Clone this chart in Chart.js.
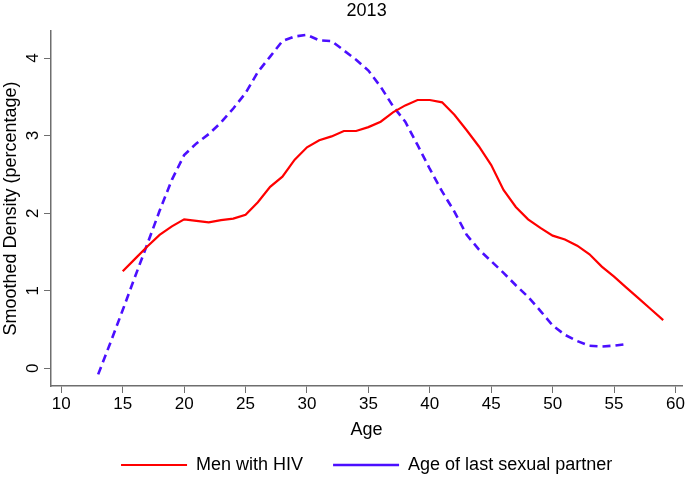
<!DOCTYPE html>
<html>
<head>
<meta charset="utf-8">
<script src="https://cdn.jsdelivr.net/npm/chart.js@4"></script>
<style>
  html, body { margin: 0; padding: 0; background: #fff; }
  #wrap { width: 688px; height: 477px; }
</style>
</head>
<body>
<div id="wrap"><canvas id="densityChart"></canvas></div>
<script>
const CHART_TITLE = '2013';
const X_TITLE = 'Age';
const Y_TITLE = 'Smoothed Density (percentage)';
const X_TICKS = [10, 15, 20, 25, 30, 35, 40, 45, 50, 55, 60];
const Y_TICKS = [0, 1, 2, 3, 4];

const hivLabel = 'Men with HIV';
const hivAges = [15, 16, 17, 18, 19, 20, 21, 22, 23, 24, 25, 26, 27, 28, 29, 30, 31, 32, 33, 34, 35, 36, 37,
    38, 39, 40, 41, 42, 43, 44, 45, 46, 47, 48, 49, 50, 51, 52, 53, 54, 55, 56, 57, 58, 59];
const hivDensity = [1.25, 1.41, 1.57, 1.72, 1.83, 1.92, 1.90, 1.88, 1.91, 1.93, 1.98, 2.14, 2.34, 2.47, 2.69,
    2.85, 2.94, 2.99, 3.06, 3.06, 3.11, 3.18, 3.30, 3.39, 3.46, 3.46, 3.43, 3.27, 3.07, 2.86, 2.62, 2.30,
    2.08, 1.92, 1.81, 1.71, 1.66, 1.58, 1.47, 1.31, 1.18, 1.04, 0.90, 0.76, 0.62];

const partnerLabel = 'Age of last sexual partner';
const partnerAges = [13, 14, 15, 16, 17, 18, 19, 20, 21, 22, 23, 24, 25, 26, 27, 28, 29, 30, 31, 32, 33, 34,
    35, 36, 37, 38, 39, 40, 41, 42, 43, 44, 45, 46, 47, 48, 49, 50, 51, 52, 53, 54, 55, 56];
const partnerDensity = [-0.08, 0.33, 0.75, 1.18, 1.60, 2.03, 2.43, 2.75, 2.90, 3.02, 3.17, 3.35, 3.55, 3.82,
    4.02, 4.22, 4.28, 4.30, 4.23, 4.22, 4.10, 3.98, 3.84, 3.63, 3.38, 3.18, 2.88, 2.57, 2.28, 2.02, 1.72,
    1.53, 1.38, 1.23, 1.07, 0.92, 0.74, 0.55, 0.43, 0.35, 0.29, 0.28, 0.29, 0.31];

const FONT = "'Liberation Sans', Arial, Helvetica, sans-serif";
const AXIS_COLOR = '#6e6e6e';

function toPoints(xs, ys) {
    return xs.map((x, i) => ({ x: x, y: ys[i] }));
}

Chart.defaults.font.family = FONT;
Chart.defaults.color = '#000';

const ctx = document.getElementById('densityChart').getContext('2d');
const chart = new Chart(ctx, {
    type: 'line',
    data: {
        datasets: [{
            label: hivLabel,
            data: toPoints(hivAges, hivDensity),
            borderColor: '#ff0000',
            backgroundColor: '#ff0000',
            borderWidth: 2.2,
            pointRadius: 0,
            tension: 0,
            fill: false
        }, {
            label: partnerLabel,
            data: toPoints(partnerAges, partnerDensity),
            borderColor: '#4b0fff',
            backgroundColor: '#4b0fff',
            borderWidth: 2.6,
            borderDash: [8, 5],
            pointRadius: 0,
            tension: 0,
            fill: false
        }]
    },
    options: {
        responsive: true,
        maintainAspectRatio: false,
        animation: false,
        layout: { padding: { left: 0, right: 5, top: 0, bottom: -7 } },
        scales: {
            x: {
                type: 'linear',
                min: 9.16,
                max: 60.55,
                afterBuildTicks: axis => { axis.ticks = X_TICKS.map(v => ({ value: v })); },
                grid: { display: true, drawOnChartArea: false, drawTicks: true, tickLength: 7, color: AXIS_COLOR, tickColor: AXIS_COLOR },
                border: { display: true, color: AXIS_COLOR, width: 1.5 },
                ticks: { font: { size: 17, lineHeight: 1 }, padding: 3, maxRotation: 0, autoSkip: false },
                title: { display: true, text: X_TITLE, font: { size: 18, lineHeight: 1 }, padding: { top: 5, bottom: -13 } }
            },
            y: {
                type: 'linear',
                min: -0.23,
                max: 4.35,
                afterBuildTicks: axis => { axis.ticks = Y_TICKS.map(v => ({ value: v })); },
                grid: { display: true, drawOnChartArea: false, drawTicks: true, tickLength: 7, color: AXIS_COLOR, tickColor: AXIS_COLOR },
                border: { display: true, color: AXIS_COLOR, width: 1.5 },
                ticks: { font: { size: 17 }, padding: 6, minRotation: 90, maxRotation: 90, crossAlign: 'center' },
                title: { display: true, text: Y_TITLE, font: { size: 18 }, padding: { top: 0, bottom: -10 } }
            }
        },
        plugins: {
            title: {
                display: true,
                text: CHART_TITLE,
                fullSize: false,
                font: { size: 18, weight: 'normal' },
                padding: { top: 0, bottom: 9.4 }
            },
            legend: {
                position: 'bottom',
                fullSize: false,
                labels: {
                    boxWidth: 66,
                    boxHeight: 0,
                    padding: 30,
                    font: { size: 18 },
                    color: '#000'
                }
            },
            tooltip: { enabled: false }
        }
    }
});
</script>
</body>
</html>
